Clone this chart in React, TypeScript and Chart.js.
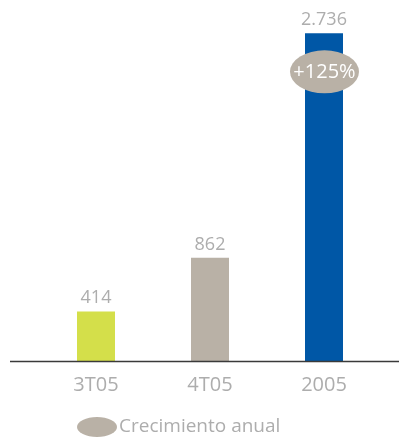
import React, { useEffect, useRef } from "react";
import { Chart, registerables } from "chart.js";

Chart.register(...registerables);

const categories = ["3T05", "4T05", "2005"];
const values = [414, 862, 2736];
const valueLabels = ["414", "862", "2.736"];
const barColors = ["#d4df4a", "#b9b1a6", "#0057a6"];
const growthLabel = "+125%";
const legendLabel = "Crecimiento anual";

const FONT = "'Open Sans', 'Noto Sans', sans-serif";
const GRAY_TEXT = "#adadad";
const ELLIPSE = "#b9b1a6";

export default function App() {
  const ref = useRef<HTMLCanvasElement | null>(null);
  useEffect(() => {
    if (!ref.current) return;
    const overlay = {
      id: "overlay",
      afterDraw(chart: any) {
        const ctx = chart.ctx;
        const meta = chart.getDatasetMeta(0);
        const yZero = chart.scales.y.getPixelForValue(0);
        ctx.save();
        // axis line
        ctx.strokeStyle = "#3a3a3a";
        ctx.lineWidth = 1.5;
        ctx.beginPath();
        ctx.moveTo(2, yZero + 0.5);
        ctx.lineTo(chart.width, yZero + 0.5);
        ctx.stroke();
        // value labels
        ctx.fillStyle = GRAY_TEXT;
        ctx.font = `18px ${FONT}`;
        ctx.textAlign = "center";
        ctx.textBaseline = "alphabetic";
        meta.data.forEach((bar: any, i: number) => {
          ctx.fillText(valueLabels[i], bar.x, bar.y - 8);
        });
        // growth ellipse on last bar
        const last = meta.data[meta.data.length - 1];
        const cx = last.x + 0.5;
        const cy = last.y + 38.5;
        ctx.fillStyle = ELLIPSE;
        ctx.beginPath();
        ctx.ellipse(cx, cy, 34.5, 21.5, 0, 0, Math.PI * 2);
        ctx.fill();
        ctx.fillStyle = "#ffffff";
        ctx.font = `20px ${FONT}`;
        ctx.textBaseline = "middle";
        ctx.fillText(growthLabel, cx, cy + 1);
        // legend
        const lx = 89;
        const ly = 419;
        ctx.fillStyle = ELLIPSE;
        ctx.beginPath();
        ctx.ellipse(lx, ly, 20, 10, 0, 0, Math.PI * 2);
        ctx.fill();
        ctx.fillStyle = GRAY_TEXT;
        ctx.font = `19px ${FONT}`;
        ctx.textAlign = "left";
        ctx.textBaseline = "middle";
        ctx.fillText(legendLabel, 111, ly);
        ctx.restore();
      },
    };
    const chart = new Chart(ref.current, {
      type: "bar",
      data: {
        labels: categories,
        datasets: [
          {
            data: values,
            backgroundColor: barColors,
            barPercentage: 1 / 3,
            categoryPercentage: 1,
          },
        ],
      },
      options: {
        animation: false,
        responsive: false,
        maintainAspectRatio: false,
        layout: { padding: { top: 20, left: 31, right: 26, bottom: 28 } },
        plugins: { legend: { display: false }, tooltip: { enabled: false } },
        scales: {
          x: {
            grid: { display: false, drawTicks: false },
            border: { display: false },
            ticks: {
              color: GRAY_TEXT,
              font: { family: FONT, size: 20 },
              padding: 12,
            },
          },
          y: {
            display: false,
            min: 0,
            max: 2780,
          },
        },
      },
      plugins: [overlay],
    });
    return () => chart.destroy();
  }, []);
  return <canvas ref={ref} width={399} height={429} style={{ display: "block" }} />;
}
